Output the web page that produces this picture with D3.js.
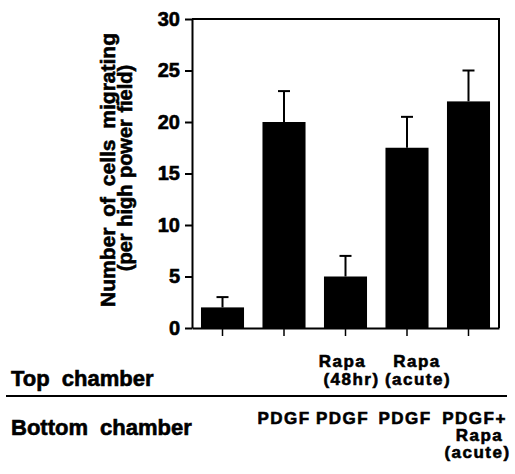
<!DOCTYPE html>
<html>
<head>
<meta charset="utf-8">
<script src="https://cdn.jsdelivr.net/npm/d3@7/dist/d3.min.js"></script>
<style>
    body { margin: 0; background: #fff; }
    svg { display: block; font-family: "Liberation Sans", Arial, Helvetica, sans-serif; font-weight: bold; }
    svg text { fill: #000; stroke: #000; stroke-width: 0.6px; }
</style>
</head>
<body>
<div id="canvas"></div>
<script>
// Chart data
const groups = ['g1', 'g2', 'g3', 'g4', 'g5'];
const means = [2, 20, 5, 17.5, 22];
const errors = [1, 3, 2, 3, 3];
const yTicks = [0, 5, 10, 15, 20, 25, 30];
const topLabels = [[], [], ['Rapa', '(48hr)'], ['Rapa', '(acute)'], []];
const bottomLabels = [[], ['PDGF'], ['PDGF'], ['PDGF'], ['PDGF+', 'Rapa', '(acute)']];
const yTitle = ['Number of cells migrating', '(per high power field)'];

const chart = {
    width: 515,
    height: 474,
    svg: null,
    x: null,
    y: null,

    init: function() {
        chart.svg = d3.select('#canvas')
            .append('svg')
            .attr('width', chart.width)
            .attr('height', chart.height);

        // Scales
        chart.x = d3.scaleBand()
            .domain(groups)
            .range([192, 499])
            .paddingInner(0.3)
            .paddingOuter(0.146);

        chart.y = d3.scaleLinear()
            .domain([0, 30])
            .range([328, 19]);

        chart.drawBars();
        chart.drawAxes();
        chart.drawLabels();
    },

    drawBars: function() {
        const g = chart.svg.append('g');

        // Error bars (upper only)
        const err = g.selectAll('.err')
            .data(groups)
            .enter()
            .append('g')
            .attr('class', 'err')
            .attr('stroke', '#000')
            .attr('stroke-width', 2);

        err.append('line')
            .attr('x1', d => chart.x(d) + chart.x.bandwidth() / 2)
            .attr('x2', d => chart.x(d) + chart.x.bandwidth() / 2)
            .attr('y1', (d, i) => chart.y(means[i]))
            .attr('y2', (d, i) => chart.y(means[i] + errors[i]));

        err.append('line')
            .attr('x1', d => chart.x(d) + chart.x.bandwidth() / 2 - 6)
            .attr('x2', d => chart.x(d) + chart.x.bandwidth() / 2 + 6)
            .attr('y1', (d, i) => chart.y(means[i] + errors[i]))
            .attr('y2', (d, i) => chart.y(means[i] + errors[i]));

        g.selectAll('rect')
            .data(groups)
            .enter()
            .append('rect')
            .attr('x', d => chart.x(d))
            .attr('width', chart.x.bandwidth())
            .attr('y', (d, i) => chart.y(means[i]))
            .attr('height', (d, i) => chart.y(0) - chart.y(means[i]))
            .attr('fill', '#000');
    },

    drawAxes: function() {
        const [x0, x1] = chart.x.range();

        // Frame: top and right
        chart.svg.append('path')
            .attr('d', `M${x0},${chart.y(30)}H${x1}V${chart.y(0)}`)
            .attr('fill', 'none')
            .attr('stroke', '#000')
            .attr('stroke-width', 2);

        const yAxis = chart.svg.append('g')
            .attr('transform', `translate(${x0},0)`)
            .call(d3.axisLeft(chart.y).tickValues(yTicks).tickSize(7).tickSizeOuter(0).tickPadding(5));

        yAxis.select('.domain').attr('stroke-width', 2);
        yAxis.selectAll('.tick line').attr('stroke-width', 2);
        yAxis.selectAll('.tick text')
            .attr('font-size', 20)
            .attr('font-weight', 'bold')
            .attr('font-family', '"Liberation Sans", Arial, sans-serif');

        const xAxis = chart.svg.append('g')
            .attr('transform', `translate(0,${chart.y(0)})`)
            .call(d3.axisBottom(chart.x).tickSize(8).tickSizeOuter(0).tickFormat(''));

        xAxis.select('.domain').attr('stroke-width', 2);
        xAxis.selectAll('.tick line').attr('stroke-width', 1.5);

        // Y title, two lines
        const titleX = [115, 132];
        const titleY = [170, 168];
        const titleSize = [21, 20];
        const titleWords = [5, 1];
        chart.svg.selectAll('.ytitle')
            .data(yTitle)
            .enter()
            .append('text')
            .attr('class', 'ytitle')
            .attr('transform', (d, i) => `translate(${titleX[i]},${titleY[i]}) rotate(-90)`)
            .attr('text-anchor', 'middle')
            .attr('font-size', (d, i) => titleSize[i])
            .attr('word-spacing', (d, i) => titleWords[i])
            .text(d => d);
    },

    drawLabels: function() {
        const cx = d => chart.x(d) + chart.x.bandwidth() / 2;

        // Row captions
        chart.svg.append('text')
            .attr('x', 11).attr('y', 386)
            .attr('font-size', 22)
            .attr('word-spacing', 6)
            .text('Top chamber');

        chart.svg.append('text')
            .attr('x', 11).attr('y', 435)
            .attr('font-size', 22)
            .attr('word-spacing', 6)
            .text('Bottom chamber');

        // Divider
        chart.svg.append('line')
            .attr('x1', 6).attr('x2', 507)
            .attr('y1', 396).attr('y2', 396)
            .attr('stroke', '#000')
            .attr('stroke-width', 2);

        // Per-line nudges to follow the original typesetting
        const topShift = [[], [], [-3, 6], [10, 11], []];
        const bottomShift = [[], [0], [-3], [-2], [6, 11, 9]];

        groups.forEach((grp, i) => {
            topLabels[i].forEach((line, j) => {
                chart.svg.append('text')
                    .attr('x', cx(grp) + topShift[i][j])
                    .attr('y', 367 + j * 18)
                    .attr('text-anchor', 'middle')
                    .attr('font-size', 17)
                    .attr('letter-spacing', 1.5)
                    .text(line);
            });
            bottomLabels[i].forEach((line, j) => {
                chart.svg.append('text')
                    .attr('x', cx(grp) + bottomShift[i][j])
                    .attr('y', 424 + j * 17)
                    .attr('text-anchor', 'middle')
                    .attr('font-size', 17)
                    .attr('letter-spacing', 1.5)
                    .text(line);
            });
        });
    }
};

document.addEventListener('DOMContentLoaded', chart.init);
</script>
</body>
</html>
